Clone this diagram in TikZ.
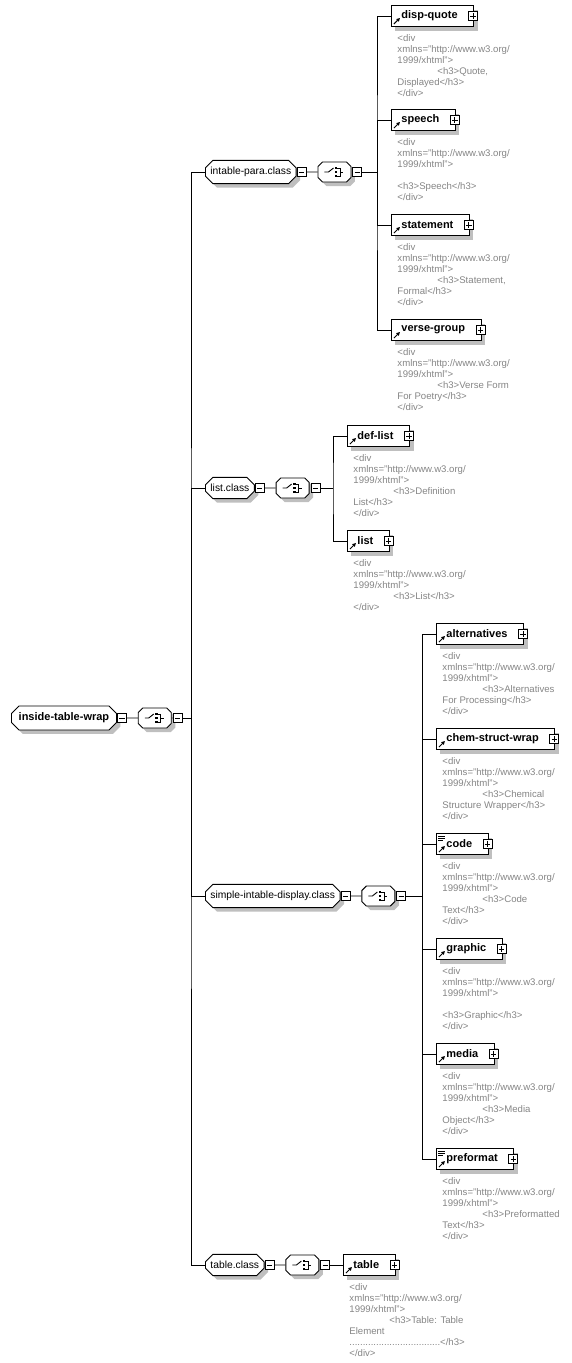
\documentclass[tikz,border=0pt]{standalone}
\usepackage{fontspec}
\setmainfont{Liberation Sans}
\usetikzlibrary{arrows.meta, positioning, shapes.misc, shadows}

\begin{document}
\begin{tikzpicture}[
  x=1pt, y=-1pt,
  line width=0.9pt,
  node distance=11pt,
  shade/.style={drop shadow={shadow xshift=4pt, shadow yshift=-4pt, fill=gray!50, opacity=1}},
  rootbox/.style={draw, chamfered rectangle, chamfered rectangle xsep=4pt, inner xsep=1pt, minimum height=20pt, minimum width=105pt, fill=white, anchor=west, shade, font=\fontsize{11}{13}\selectfont\bfseries},
  grpbox/.style={rootbox, minimum width=0pt, font=\fontsize{10.3}{12}\selectfont},
  choicebox/.style={draw, chamfered rectangle, chamfered rectangle xsep=2.5pt, chamfered rectangle ysep=2pt, inner xsep=1pt, inner ysep=1pt, minimum height=20pt, fill=white, shade,
    execute at begin node={\rule{26pt}{0pt}\rule[-3pt]{0pt}{10pt}}},
  minusbox/.style={draw, fill=white, minimum size=9pt, inner sep=0pt,
    path picture={\draw[line width=0.9pt] ([xshift=1.8pt]path picture bounding box.west) -- ([xshift=-1.8pt]path picture bounding box.east);}},
  plusbox/.style={draw, fill=white, minimum size=9pt, inner sep=0pt,
    path picture={\draw[line width=0.9pt] ([xshift=1.8pt]path picture bounding box.west) -- ([xshift=-1.8pt]path picture bounding box.east)
      ([yshift=-1.8pt]path picture bounding box.north) -- ([yshift=1.8pt]path picture bounding box.south);}},
  elem/.style={draw, rectangle, fill=white, minimum height=21pt, inner xsep=0pt, anchor=west, shade,
    font=\fontsize{11}{13}\selectfont\bfseries,
    execute at begin node={\hspace*{10pt}}, execute at end node={\hspace*{16pt}},
    path picture={\draw[-{Triangle[length=3.5pt,width=3.5pt]}, line width=1pt] ([shift={(2.5pt,2.5pt)}]path picture bounding box.south west) -- ++(6pt,6pt);}},
  textelem/.style={elem,
    path picture={\draw[-{Triangle[length=3.5pt,width=3.5pt]}, line width=1pt] ([shift={(2.5pt,2.5pt)}]path picture bounding box.south west) -- ++(6pt,6pt);
      \draw[line width=0.7pt] ([shift={(2pt,-2.5pt)}]path picture bounding box.north west) -- ++(7pt,0pt)
        ([shift={(2pt,-4.5pt)}]path picture bounding box.north west) -- ++(7pt,0pt)
        ([shift={(2pt,-6.5pt)}]path picture bounding box.north west) -- ++(5pt,0pt);}},
  note/.style={inner sep=0pt, align=left, text=black!48, font=\fontsize{9.6}{11}\selectfont},
  choicemark/.pic={
    \draw[line width=0.9pt] (-10,0) -- (-6,0) -- (-1,-4);
    \foreach \k in {-4,0,4} \fill (0.5,\k-1.25) rectangle ++(2.5,2.5);
    \draw[line width=0.8pt] (3,-4) -- (6,-4) -- (6,4) -- (3,4) (6,0) -- (9,0);
  }
]
\useasboundingbox (0,0) rectangle (571,1363);

% root and its sequence
\node[rootbox] (root) at (11,718) {inside-table-wrap};
\node[minusbox, right=0pt of root] (rootm) {};
\node[choicebox, right=of rootm] (rootch) {};
\pic at (rootch) {choicemark};
\node[minusbox, right=1pt of rootch] (rootchm) {};
\coordinate (trunk) at (191,718);

% groups
\node[grpbox] (ipc) at (205,172) {intable-para.class};
\node[minusbox, right=0pt of ipc] (ipcm) {};
\node[choicebox, right=of ipcm] (ipch) {};
\pic at (ipch) {choicemark};
\node[minusbox, right=1pt of ipch] (ipchm) {};
\coordinate (ipj) at (377,172);

\node[grpbox] (lc) at (205,488) {list.class};
\node[minusbox, right=0pt of lc] (lcm) {};
\node[choicebox, right=of lcm] (lch) {};
\pic at (lch) {choicemark};
\node[minusbox, right=1pt of lch] (lchm) {};
\coordinate (lj) at (333,488);

\node[grpbox] (sic) at (205,896) {simple-intable-display.class};
\node[minusbox, right=0pt of sic] (sicm) {};
\node[choicebox, right=of sicm] (sich) {};
\pic at (sich) {choicemark};
\node[minusbox, right=1pt of sich] (sichm) {};
\coordinate (sij) at (422,896);

\node[grpbox] (tbc) at (205,1265) {table.class};
\node[minusbox, right=0pt of tbc] (tbcm) {};
\node[choicebox, right=of tbcm] (tbch) {};
\pic at (tbch) {choicemark};
\node[minusbox, right=1pt of tbch] (tbchm) {};

% elements of intable-para.class
\node[elem] (dq) at (391,16) {disp-quote};
\node[plusbox] at ([xshift=-1pt]dq.east) {};
\node[note, below right=7pt and 6pt of dq.south west] (dqn) {<div\\xmlns="http://www.w3.org/\\1999/xhtml">\\\hspace*{40pt}<h3>Quote,\\Displayed</h3>\\</div>};

\node[elem] (sp) at (391,120) {speech};
\node[plusbox] at ([xshift=-1pt]sp.east) {};
\node[note, below right=7pt and 6pt of sp.south west] (spn) {<div\\xmlns="http://www.w3.org/\\1999/xhtml">\\\mbox{}\\<h3>Speech</h3>\\</div>};

\node[elem] (st) at (391,225) {statement};
\node[plusbox] at ([xshift=-1pt]st.east) {};
\node[note, below right=7pt and 6pt of st.south west] (stn) {<div\\xmlns="http://www.w3.org/\\1999/xhtml">\\\hspace*{40pt}<h3>Statement,\\Formal</h3>\\</div>};

\node[elem] (vg) at (391,330) {verse-group};
\node[plusbox] at ([xshift=-1pt]vg.east) {};
\node[note, below right=7pt and 6pt of vg.south west] (vgn) {<div\\xmlns="http://www.w3.org/\\1999/xhtml">\\\hspace*{40pt}<h3>Verse Form\\For Poetry</h3>\\</div>};

% elements of list.class
\node[elem] (dl) at (347,436) {def-list};
\node[plusbox] at ([xshift=-1pt]dl.east) {};
\node[note, below right=7pt and 6pt of dl.south west] (dln) {<div\\xmlns="http://www.w3.org/\\1999/xhtml">\\\hspace*{40pt}<h3>Definition\\List</h3>\\</div>};

\node[elem] (ls) at (347,541) {list};
\node[plusbox] at ([xshift=-1pt]ls.east) {};
\node[note, below right=7pt and 6pt of ls.south west] (lsn) {<div\\xmlns="http://www.w3.org/\\1999/xhtml">\\\hspace*{40pt}<h3>List</h3>\\</div>};

% elements of simple-intable-display.class
\node[elem] (alt) at (436,634) {alternatives};
\node[plusbox] at ([xshift=-1pt]alt.east) {};
\node[note, below right=7pt and 6pt of alt.south west] (altn) {<div\\xmlns="http://www.w3.org/\\1999/xhtml">\\\hspace*{40pt}<h3>Alternatives\\For Processing</h3>\\</div>};

\node[elem] (cs) at (436,739) {chem-struct-wrap};
\node[plusbox] at ([xshift=-1pt]cs.east) {};
\node[note, below right=7pt and 6pt of cs.south west] (csn) {<div\\xmlns="http://www.w3.org/\\1999/xhtml">\\\hspace*{40pt}<h3>Chemical\\Structure Wrapper</h3>\\</div>};

\node[textelem] (cd) at (436,844) {code};
\node[plusbox] at ([xshift=-1pt]cd.east) {};
\node[note, below right=7pt and 6pt of cd.south west] (cdn) {<div\\xmlns="http://www.w3.org/\\1999/xhtml">\\\hspace*{40pt}<h3>Code\\Text</h3>\\</div>};

\node[elem] (gr) at (436,949) {graphic};
\node[plusbox] at ([xshift=-1pt]gr.east) {};
\node[note, below right=7pt and 6pt of gr.south west] (grn) {<div\\xmlns="http://www.w3.org/\\1999/xhtml">\\\mbox{}\\<h3>Graphic</h3>\\</div>};

\node[elem] (md) at (436,1054) {media};
\node[plusbox] at ([xshift=-1pt]md.east) {};
\node[note, below right=7pt and 6pt of md.south west] (mdn) {<div\\xmlns="http://www.w3.org/\\1999/xhtml">\\\hspace*{40pt}<h3>Media\\Object</h3>\\</div>};

\node[textelem] (pf) at (436,1159) {preformat};
\node[plusbox] at ([xshift=-1pt]pf.east) {};
\node[note, below right=7pt and 6pt of pf.south west] (pfn) {<div\\xmlns="http://www.w3.org/\\1999/xhtml">\\\hspace*{40pt}<h3>Preformatted\\Text</h3>\\</div>};

% element of table.class
\node[elem] (tb) at (343,1265) {table};
\node[plusbox] at ([xshift=-1pt]tb.east) {};
\node[note, below right=7pt and 6pt of tb.south west] (tbn) {<div\\xmlns="http://www.w3.org/\\1999/xhtml">\\\hspace*{40pt}<h3>Table: Table\\Element\\..................................</h3>\\</div>};

% connectors
\draw (root) -- (rootm);
\draw (rootm) -- (rootch);
\draw (rootch) -- (rootchm);
\draw (rootchm) -- (trunk);
\draw (ipc.west) -| (trunk) |- (tbc.west);
\draw (trunk) |- (lc.west);
\draw (trunk) |- (sic.west);

\draw (ipcm) -- (ipch);
\draw (ipchm) -- (ipj);
\draw (dq.west) -| (ipj) |- (vg.west);
\draw (ipj) |- (sp.west);
\draw (ipj) |- (st.west);

\draw (lcm) -- (lch);
\draw (lchm) -- (lj);
\draw (dl.west) -| (lj) |- (ls.west);

\draw (sicm) -- (sich);
\draw (sichm) -- (sij);
\draw (alt.west) -| (sij) |- (pf.west);
\draw (sij) |- (cs.west);
\draw (sij) |- (cd.west);
\draw (sij) |- (gr.west);
\draw (sij) |- (md.west);

\draw (tbcm) -- (tbch);
\draw (tbchm) -- (tb);

\end{tikzpicture}
\end{document}
